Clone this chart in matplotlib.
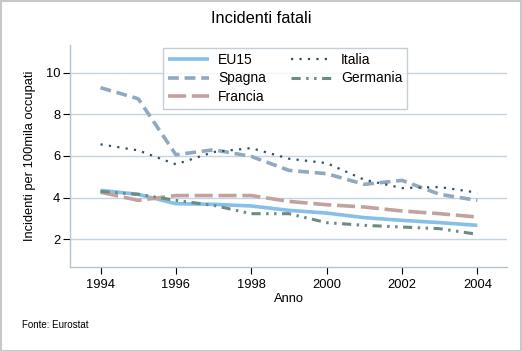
import matplotlib
matplotlib.use("Agg")
import matplotlib.pyplot as plt
from matplotlib.patches import Rectangle

plt.rcParams['font.family'] = ['Liberation Sans', 'DejaVu Sans']

years = [1994, 1995, 1996, 1997, 1998, 1999, 2000, 2001, 2002, 2003, 2004]
eu15 = [4.35, 4.16, 3.71, 3.68, 3.60, 3.39, 3.26, 3.04, 2.91, 2.80, 2.67]
spagna = [9.28, 8.75, 6.06, 6.30, 5.98, 5.31, 5.15, 4.64, 4.83, 4.16, 3.87]
francia = [4.26, 3.87, 4.10, 4.10, 4.10, 3.82, 3.66, 3.55, 3.36, 3.23, 3.07]
italia = [6.56, 6.27, 5.60, 6.19, 6.38, 5.87, 5.66, 4.86, 4.46, 4.51, 4.24]
germania = [4.30, 4.16, 3.87, 3.63, 3.23, 3.23, 2.80, 2.67, 2.59, 2.51, 2.24]

xticks = [1994, 1996, 1998, 2000, 2002, 2004]
yticks = [2, 4, 6, 8, 10]

fig = plt.figure(figsize=(5.22, 3.51), dpi=100)
fig.patch.set_facecolor('white')
fig.patches.append(Rectangle((0.001, 0.001), 0.997, 0.996, transform=fig.transFigure,
                             fill=False, edgecolor='#c8c8c8', linewidth=1.5))

ax = fig.add_axes([0.1341, 0.2379, 0.8381, 0.6339])
ax.set_xlim(1993.19, 2004.8)
ax.set_ylim(0.646, 11.33)

for y in yticks:
    ax.axhline(y, color='#c6d4df', linewidth=1.0, zorder=0)

ax.plot(years, eu15, color='#86c0e8', linewidth=2.6, solid_capstyle='butt', label='EU15')
ax.plot(years, spagna, color='#91a8bf', linewidth=2.6, dashes=(3, 1.6), label='Spagna')
ax.plot(years, francia, color='#c2a29e', linewidth=2.6, dashes=(5, 1.6), label='Francia')
ax.plot(years, italia, color='#2f5068', linewidth=1.6, dashes=(1, 2.8), label='Italia')
ax.plot(years, germania, color='#6b8c7f', linewidth=2.2, dashes=(3, 1.8, 0.8, 1.8, 0.8, 1.8), label='Germania')

for s in ['top', 'right']:
    ax.spines[s].set_visible(False)
for s in ['left', 'bottom']:
    ax.spines[s].set_color('#b4c2ce')
    ax.spines[s].set_linewidth(1.0)

ax.set_xticks(xticks)
ax.set_yticks(yticks)
ax.tick_params(axis='both', colors='black', labelsize=9.3, length=5, width=0.8, direction='out')
ax.tick_params(axis='y', pad=2)
ax.tick_params(axis='x', pad=3)

ax.set_xlabel('Anno', fontsize=9.3, labelpad=2)
ax.set_ylabel('Incidenti per 100mila occupati', fontsize=9.3, labelpad=7)

fig.text(0.5, 0.947, 'Incidenti fatali', ha='center', va='center', fontsize=11.8)
fig.text(0.042, 0.075, 'Fonte: Eurostat', ha='left', va='center', fontsize=7)

leg = ax.legend(ncol=2, loc='upper left', bbox_to_anchor=(0.2135, 0.9865), fontsize=10,
                frameon=True, fancybox=False, handlelength=2.9, handletextpad=0.7,
                columnspacing=1.8, labelspacing=0.33, borderpad=0.35, borderaxespad=0)
leg.get_frame().set_edgecolor('#b4c2ce')
leg.get_frame().set_linewidth(1.0)

fig.savefig('out.png', dpi=100, facecolor='white')
